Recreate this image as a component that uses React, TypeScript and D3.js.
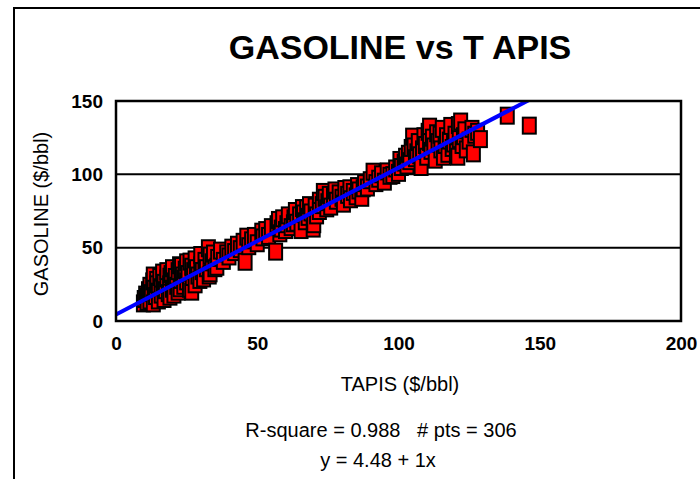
import React, { useEffect, useRef } from 'react';
import * as d3 from 'd3';

// TAPIS crude price ($/bbl)
const tapis = [
  9.7, 10, 10.5, 10.9, 11, 11.5, 12, 12, 12.5, 13,
  13.2, 13.2, 13.5, 14, 14.4, 14.5, 15, 15, 15.5, 16,
  16, 16.5, 16.8, 17, 17, 17.5, 18, 18, 18.5, 19,
  19.1, 19.1, 19.5, 20, 20, 20.5, 20.5, 21, 21.5, 22,
  22, 22.7, 22.5,
  23, 23.2, 23.5, 24, 24, 24.5, 25, 25, 25.5, 26,
  26.2, 26.8, 26.8, 27, 27.5, 28, 28, 28.5, 29, 29.7,
  30, 30, 30.5, 31, 31.5, 32, 32.7, 33, 33.3, 33.3,
  34, 34.5, 35, 35.7, 36,
  37, 38, 39.2, 40, 41, 42, 43, 44, 45, 45.7,
  46.3, 47, 48, 49, 50, 51.6, 52, 53, 54, 55,
  56.5, 57, 57.5, 58, 58.5, 59, 60, 60.5, 61, 62,
  62.8, 63, 63.5, 64, 65, 65.5, 66, 66.4, 67, 67.5,
  68, 68.5, 69, 69.8, 70, 70.5, 71, 72, 72,
  73, 73.4, 74, 74.6, 75, 75.5, 76, 77, 77.5, 78,
  79, 80, 80.5, 81, 82, 82.8, 83, 84, 85, 85.5,
  86, 87, 87.5, 88, 89, 90, 91, 92, 93, 94,
  95, 96, 97, 98, 99, 100,
  100.5, 101, 102, 102.5, 103, 103.5, 104, 104.5, 105, 105.5,
  106, 106.5, 107, 107.5, 108, 108.5, 109, 109.5, 110, 110.5,
  111, 111, 111.5, 112, 112.5, 113, 113.5, 114, 114.7, 115,
  115.5, 115.9, 116.5, 117, 117.5, 118, 118.5, 119, 119.5, 120,
  120.5, 121, 121.2, 121.5, 122, 122.5, 123, 123.5, 124, 125,
  126, 126.5, 127, 128, 129,
  138.5, 146.3,
];

// GASOLINE price ($/bbl), same order as tapis
const gasoline = [
  12, 15, 18, 16.6, 13, 21, 24, 14, 19, 27,
  12, 31, 22, 17, 28, 25, 20, 14, 30, 23,
  18, 33, 23, 26, 15, 21, 29, 34, 19, 25,
  30.2, 16.6, 32, 22, 36, 27, 18, 30, 24, 34,
  20, 22.3, 38,
  28, 37.5, 31, 29, 24, 35, 40, 27, 32, 22,
  40.5, 37, 20, 30, 34, 25, 42, 36, 31, 28,
  38, 45, 34, 29, 41, 36, 49.6, 31, 44.6, 32.5,
  40, 46, 36, 37, 43,
  48, 41, 46.1, 44, 50, 47, 52, 49, 54, 40.4,
  57.5, 51, 55, 58, 53, 60.9, 57, 62, 58, 64,
  47.3, 66, 68.9, 59.8, 63, 70, 62, 66, 72, 64,
  66.6, 70, 75, 67, 72, 62, 77, 73.3, 68, 76.8,
  71, 79, 74, 63, 66, 78, 72, 82, 75,
  79, 88, 84, 76.8, 81, 86, 78, 85, 89, 82,
  87, 84, 80, 90, 86, 90.5, 83, 88, 85, 92,
  89, 84, 90.5, 94, 91, 96, 101.8, 94, 97, 100,
  95, 102, 99, 99.5, 104, 101,
  109.8, 105, 108, 112, 106, 114, 109, 118, 125.7, 119,
  111, 115, 122, 113, 105, 117, 126, 120, 112, 129,
  132.5, 122, 116, 125, 119, 110, 128, 122, 127, 117,
  131, 112, 120, 126, 114, 123, 133, 118, 121, 127,
  115, 112, 133.6, 124, 136, 120, 126, 130, 117, 123,
  131, 114.3, 127, 129, 124,
  140, 133.2,
];

const xTicks = [0, 50, 100, 150, 200];
const yTicks = [0, 50, 100, 150];
const intercept = 4.48;
const slope = 1;
const rSquare = 0.988;
const nPts = 306;

const font = '"Liberation Sans", Arial, sans-serif';

export default function App() {
  const ref = useRef<SVGSVGElement>(null);

  useEffect(() => {
    const svg = d3.select(ref.current);
    svg.selectAll('*').remove();

    const left = 116, right = 681, top = 101, bottom = 321;
    const x = d3.scaleLinear().domain([0, 200]).range([left, right]);
    const y = d3.scaleLinear().domain([0, 150]).range([bottom, top]);

    // outer frame
    svg.append('rect')
      .attr('x', 14).attr('y', 8).attr('width', 700).attr('height', 500)
      .attr('fill', 'white').attr('stroke', 'black').attr('stroke-width', 2);

    svg.append('text')
      .attr('x', 400).attr('y', 59)
      .attr('text-anchor', 'middle')
      .attr('font-family', font).attr('font-weight', 'bold').attr('font-size', 34)
      .text('GASOLINE vs T APIS');

    svg.append('defs').append('clipPath').attr('id', 'plot-clip')
      .append('rect')
      .attr('x', left).attr('y', top).attr('width', right - left).attr('height', bottom - top);

    // grid lines
    svg.append('g')
      .selectAll('line')
      .data(yTicks.filter((t) => t > 0 && t < 150))
      .join('line')
      .attr('x1', left).attr('x2', right)
      .attr('y1', (d) => y(d)).attr('y2', (d) => y(d))
      .attr('stroke', 'black').attr('stroke-width', 2);

    // points
    const pts = tapis.map((t, i) => [t, gasoline[i]]);
    const mw = 13, mh = 16;
    svg.append('g')
      .selectAll('rect')
      .data(pts)
      .join('rect')
      .attr('x', (d) => x(d[0]) - mw / 2)
      .attr('y', (d) => y(d[1]) - mh / 2)
      .attr('width', mw).attr('height', mh)
      .attr('fill', '#ff0000')
      .attr('stroke', 'black').attr('stroke-width', 2);

    // fitted line
    const fit = d3.line<number>()
      .x((d) => x(d))
      .y((d) => y(intercept + slope * d));
    svg.append('path')
      .datum([0, 200])
      .attr('d', fit)
      .attr('clip-path', 'url(#plot-clip)')
      .attr('fill', 'none')
      .attr('stroke', '#0000ff').attr('stroke-width', 4);

    // plot border
    svg.append('rect')
      .attr('x', left).attr('y', top).attr('width', right - left).attr('height', bottom - top)
      .attr('fill', 'none').attr('stroke', 'black').attr('stroke-width', 2.5);

    const yAxis = svg.append('g')
      .attr('transform', `translate(${left - 13},0)`)
      .call(d3.axisLeft(y).tickValues(yTicks).tickSize(0).tickPadding(0).tickFormat(d3.format('d')));
    yAxis.select('.domain').remove();
    yAxis.selectAll('text')
      .attr('font-family', font).attr('font-weight', 'bold').attr('font-size', 19).attr('fill', 'black');

    const xAxis = svg.append('g')
      .attr('transform', `translate(0,${bottom + 15})`)
      .call(d3.axisBottom(x).tickValues(xTicks).tickSize(0).tickPadding(0).tickFormat(d3.format('d')));
    xAxis.select('.domain').remove();
    xAxis.selectAll('text')
      .attr('font-family', font).attr('font-weight', 'bold').attr('font-size', 19).attr('fill', 'black');

    svg.append('text')
      .attr('x', 400).attr('y', 391)
      .attr('text-anchor', 'middle')
      .attr('font-family', font).attr('font-size', 20)
      .text('TAPIS ($/bbl)');

    svg.append('text')
      .attr('transform', 'translate(48,214) rotate(-90)')
      .attr('text-anchor', 'middle')
      .attr('font-family', font).attr('font-size', 20)
      .text('GASOLINE ($/bbl)');

    svg.append('text')
      .attr('x', 381).attr('y', 437)
      .attr('text-anchor', 'middle')
      .attr('font-family', font).attr('font-size', 20)
      .style('white-space', 'pre')
      .text(`R-square = ${rSquare}   # pts = ${nPts}`);

    svg.append('text')
      .attr('x', 378).attr('y', 467)
      .attr('text-anchor', 'middle')
      .attr('font-family', font).attr('font-size', 20)
      .text(`y = ${intercept} + ${slope}x`);
  }, []);

  return (
    <svg ref={ref} width={700} height={479} style={{ position: 'absolute', left: 0, top: 0 }} />
  );
}
